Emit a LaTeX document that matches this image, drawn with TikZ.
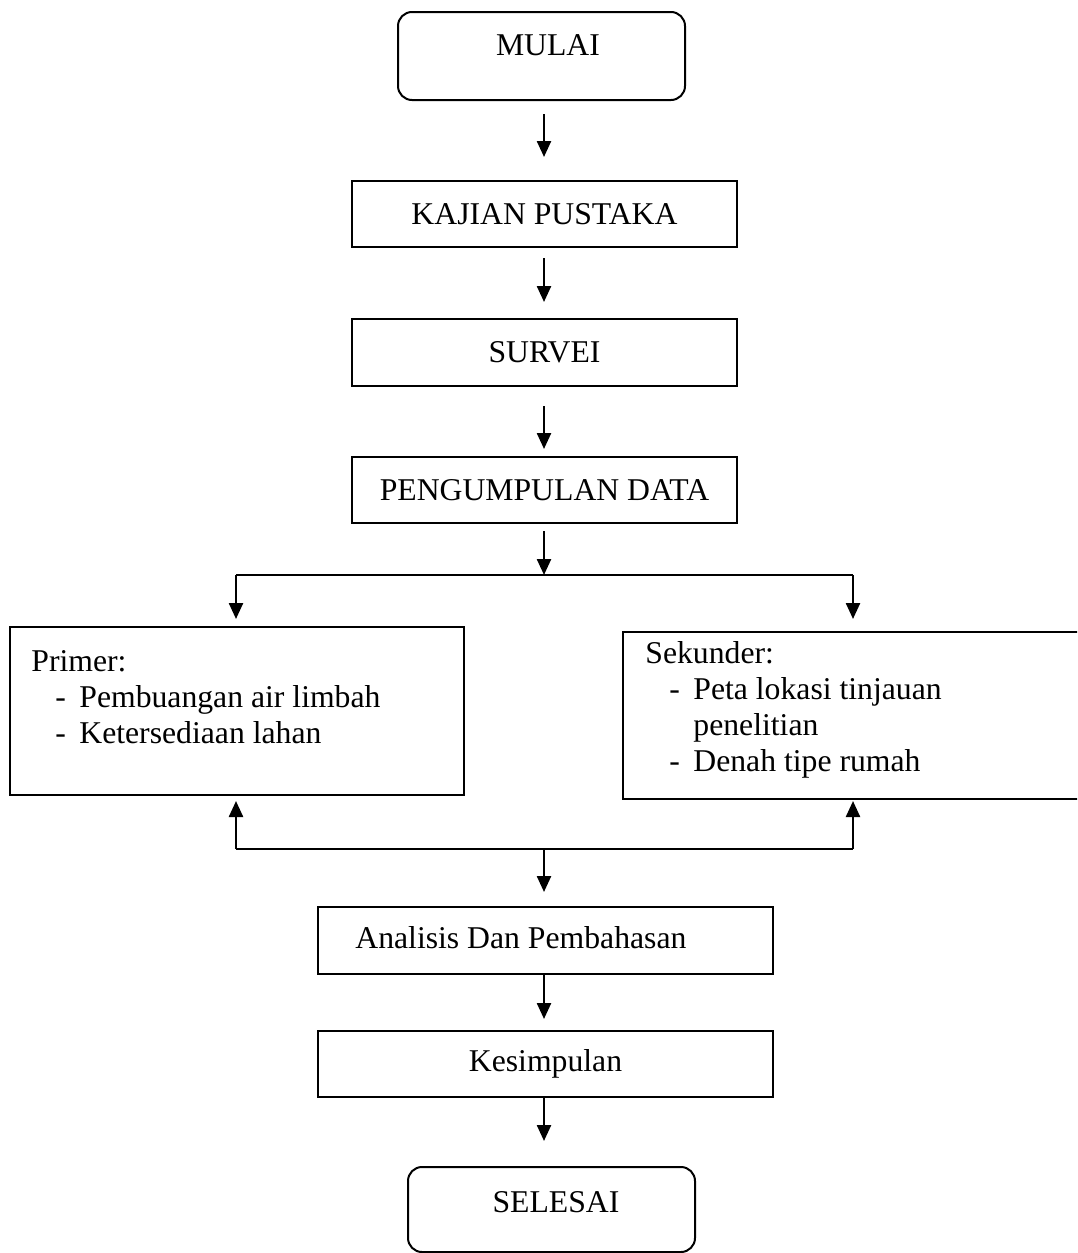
\documentclass[tikz,border=0pt]{standalone}
\usepackage{fontspec}
\setmainfont{Liberation Serif}
\usetikzlibrary{
  positioning,
  calc,
  arrows.meta,
}
\newcommand{\butir}[1]{\hspace*{12pt}\makebox[12pt][l]{-}#1}
\tikzset{
  >={Triangle[length=8pt,width=7pt]},
  every node/.style={font=\fontsize{15.85}{18}\selectfont},
  boxsize/.style 2 args={
    minimum width=#1*0.5pt,
    minimum height=#2*0.5pt
  },
  box/.style={
    rectangle,
    draw,
    line width=1pt,
    inner sep=0pt,
  },
  terminal/.style={
    box,
    rounded corners=7pt,
  },
  process/.style={
    box,
  },
  listtext/.style={
    inner sep=0pt,
    align=left,
    anchor=north west,
  },
  flow/.style={
    ->,
    line width=1.2pt,
  },
  junction/.style={
    line width=1.1pt,
  },
}

\begin{document}
\begin{tikzpicture}[x=0.5pt, y=-0.5pt]
  \useasboundingbox (0,0) rectangle (1077,1253);
  \clip (0,0) rectangle (1077,1253);

  \node[terminal, boxsize={287}{88}] (mulai) at (541.5,56) {};
  \node (mulai text) at (548,45) {MULAI};
  \node[process, boxsize={385}{66}] (kajian) at (544.5,214) {KAJIAN PUSTAKA};
  \node[process, boxsize={385}{67}] (survei) at (544.5,352.5) {SURVEI};
  \node[process, boxsize={385}{66}] (data) at (544.5,490) {PENGUMPULAN DATA};

  \node[process, boxsize={454}{168}] (primer) at (237,711) {};
  \node[listtext] (primer text) at (31,650) {Primer:\\
    \butir{Pembuangan air limbah}\\
    \butir{Ketersediaan lahan}};
  \node[process, boxsize={477}{167}] (sekunder) at (861.5,715.5) {};
  \node[listtext] (sekunder text) at (645,641) {Sekunder:\\
    \butir{Peta lokasi tinjauan}\\
    \hspace*{24pt}penelitian\\
    \butir{Denah tipe rumah}};

  \node[process, boxsize={455}{67}] (analisis) at (545.5,940.5) {};
  \node[anchor=west, inner sep=0pt] (analisis text) at (355,938) {Analisis Dan Pembahasan};
  \node[process, boxsize={455}{66}] (kesimpulan) at (545.5,1064) {Kesimpulan};
  \node[terminal, boxsize={287}{85}] (selesai) at (551.5,1209.5) {};
  \node (selesai text) at (556,1202) {SELESAI};

  \coordinate (bagi) at (544,575);
  \coordinate (bagi kiri) at (236,575);
  \coordinate (bagi kanan) at (853,575);
  \coordinate (gabung) at (544,849);
  \coordinate (gabung kiri) at (236,849);
  \coordinate (gabung kanan) at (853,849);

  \draw[flow, shorten <=6.5pt, shorten >=11.5pt] (mulai.south -| bagi) -- (kajian.north -| bagi);
  \draw[flow, shorten <=5pt, shorten >=8pt] (kajian.south -| bagi) -- (survei.north -| bagi);
  \draw[flow, shorten <=9.5pt, shorten >=3.5pt] (survei.south -| bagi) -- (data.north -| bagi);
  \draw[flow, shorten <=3.5pt] (data.south -| bagi) -- (bagi);
  \draw[junction] (bagi kiri) -- (bagi kanan);
  \draw[flow, shorten >=3.5pt] (bagi kiri) -- (primer.north -| bagi kiri);
  \draw[flow, shorten >=6pt] (bagi kanan) -- (sekunder.north -| bagi kanan);

  \draw[flow, shorten >=2.5pt] (gabung kiri) -- (primer.south -| gabung kiri);
  \draw[flow, shorten >=0.5pt] (gabung kanan) -- (sekunder.south -| gabung kanan);
  \draw[junction] (gabung kiri) -- (gabung kanan);
  \draw[flow, shorten >=7pt] (gabung) -- (analisis.north -| gabung);
  \draw[flow, shorten >=5.5pt] (analisis.south -| gabung) -- (kesimpulan.north -| gabung);
  \draw[flow, shorten >=12.5pt] (kesimpulan.south -| gabung) -- (selesai.north -| gabung);
\end{tikzpicture}
\end{document}
